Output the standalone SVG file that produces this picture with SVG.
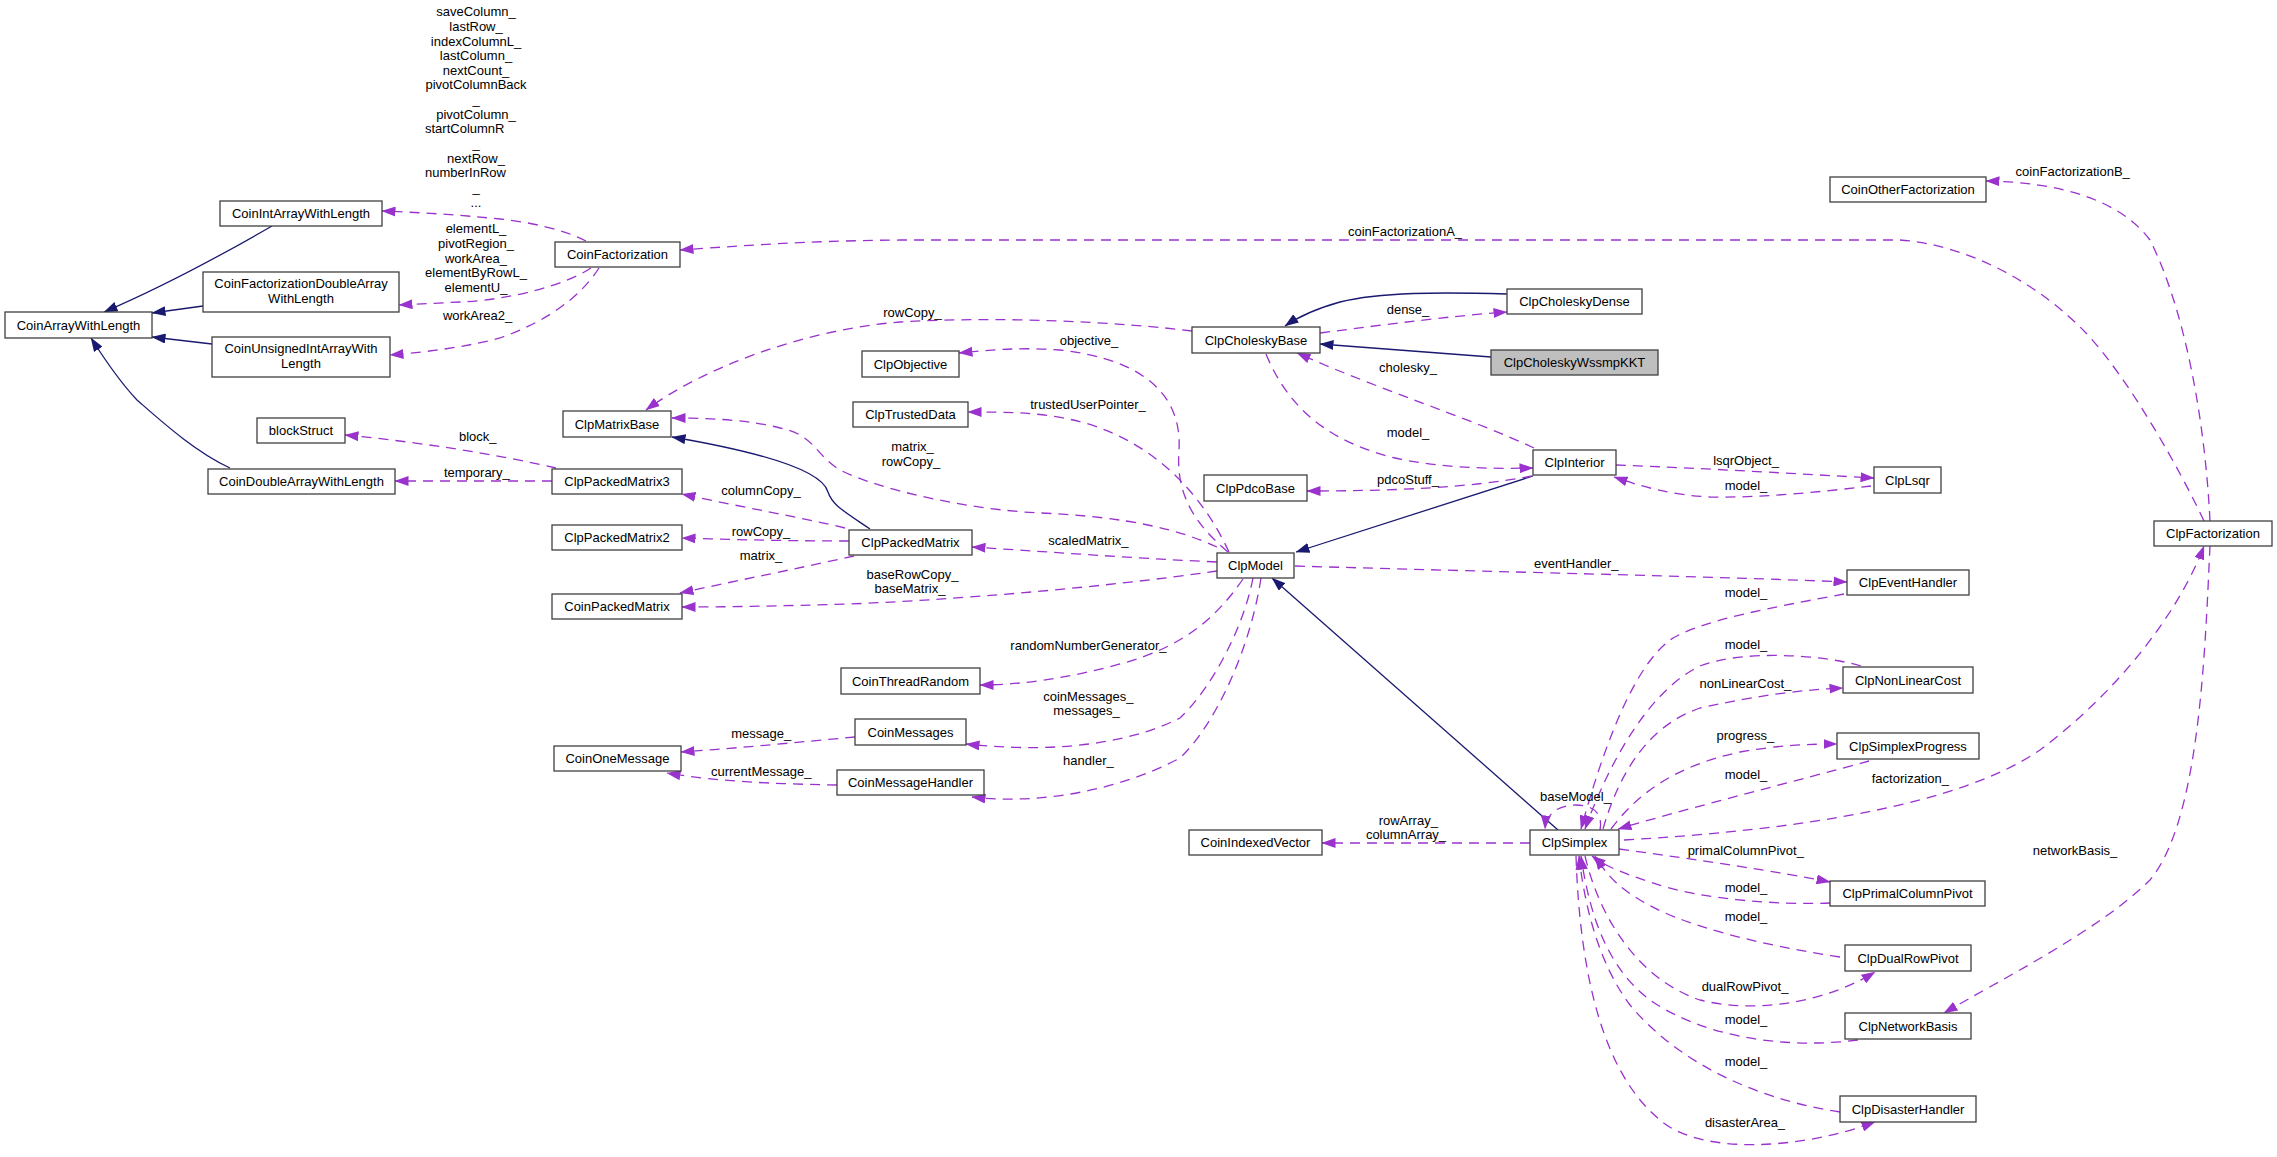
<svg xmlns="http://www.w3.org/2000/svg" width="2277" height="1157" viewBox="0 0 2277 1157">
<style>
text{font-family:"Liberation Sans",Arial,Helvetica,sans-serif;font-size:13px;fill:#000}
.n rect{fill:#fff;stroke:#404040;stroke-width:1.3}
.n text,.l{text-anchor:middle}
.s{text-anchor:start}
.d{fill:none;stroke:#9a32cd;stroke-width:1.3;stroke-dasharray:10,7;marker-end:url(#ap)}
.i{fill:none;stroke:#191970;stroke-width:1.3;marker-end:url(#an)}
</style>
<defs>
<marker id="ap" viewBox="0 0 14 10" refX="13.5" refY="5" markerWidth="14" markerHeight="10" markerUnits="userSpaceOnUse" orient="auto"><path d="M0,0L14,5L0,10z" fill="#9a32cd"/></marker>
<marker id="an" viewBox="0 0 14 10" refX="13.5" refY="5" markerWidth="14" markerHeight="10" markerUnits="userSpaceOnUse" orient="auto"><path d="M0,0L14,5L0,10z" fill="#191970"/></marker>
</defs>
<rect width="2277" height="1157" fill="#fff"/>
<g id="edges">
<path class="i" d="M272,226 C220,256 160,288 104,312"/>
<path class="i" d="M203,306 L152,313"/>
<path class="i" d="M212,344 L152,337"/>
<path class="i" d="M230,468 C195,452 160,420 137,400 C120,382 105,360 91,338"/>
<path class="i" d="M870,529 C845,512 832,505 828,492 C822,470 760,452 672,437"/>
<path class="i" d="M1507,294 C1440,292 1380,292 1340,302 C1315,309 1298,317 1285,326"/>
<path class="i" d="M1491,357 L1320,344"/>
<path class="i" d="M1533,476 L1296,552"/>
<path class="i" d="M1558,830 L1272,578"/>

<path class="d" d="M586,241 C565,230 530,222 500,219 C460,215 430,213 382,211"/>
<path class="d" d="M591,268 C565,285 510,300 460,302 C440,303 420,304 399,305"/>
<path class="d" d="M599,268 C590,282 565,315 500,338 C470,346 430,352 390,355"/>
<path class="d" d="M1192,331 C1120,322 1000,316 900,322 C800,330 700,370 646,410"/>
<path class="d" d="M1228,552 C1190,520 1176,490 1179,450 C1182,400 1150,360 1060,350 C1020,347 990,350 959,353"/>
<path class="d" d="M1229,552 C1205,500 1160,445 1085,423 C1045,412 1010,412 968,412"/>
<path class="d" d="M1217,547 C1180,530 1130,517 1041,513 C970,510 880,490 840,470 C815,455 815,435 780,428 C750,420 710,418 672,418"/>
<path class="d" d="M1217,562 C1130,558 1050,552 972,547"/>
<path class="d" d="M1217,571 C1100,588 950,600 850,604 C780,606 730,607 682,607"/>
<path class="d" d="M845,528 C800,517 740,507 682,494"/>
<path class="d" d="M849,541 C800,541 740,540 682,538"/>
<path class="d" d="M854,556 C800,568 740,580 680,593"/>
<path class="d" d="M556,468 C500,455 420,442 345,435"/>
<path class="d" d="M552,481 L395,481"/>
<path class="d" d="M1243,579 C1215,620 1180,648 1120,664 C1070,678 1020,685 980,685"/>
<path class="d" d="M1253,578 C1243,630 1210,690 1180,718 C1120,748 1040,752 966,744"/>
<path class="d" d="M1261,578 C1250,650 1215,725 1180,758 C1120,790 1040,805 972,797"/>
<path class="d" d="M855,737 C800,742 740,748 681,752"/>
<path class="d" d="M837,785 C780,784 720,782 667,773"/>
<path class="d" d="M1320,333 C1390,324 1450,316 1507,312"/>
<path class="d" d="M1534,448 C1470,418 1380,390 1297,353"/>
<path class="d" d="M1266,354 C1285,400 1320,440 1395,458 C1440,468 1490,469 1533,468"/>
<path class="d" d="M1532,476 C1470,488 1390,491 1307,491"/>
<path class="d" d="M1616,465 C1700,468 1800,474 1874,478"/>
<path class="d" d="M1871,486 C1820,492 1760,498 1710,497 C1670,495 1640,486 1614,477"/>
<path class="d" d="M1295,566 C1500,572 1700,576 1847,582"/>
<path class="d" d="M1844,594 C1780,606 1700,620 1670,640 C1630,670 1600,760 1581,829"/>
<path class="d" d="M1861,666 C1820,654 1740,650 1700,666 C1650,690 1610,760 1585,829"/>
<path class="d" d="M1603,829 C1620,770 1650,725 1700,708 C1760,695 1800,690 1843,688"/>
<path class="d" d="M1611,829 C1640,790 1680,765 1740,752 C1780,745 1810,744 1837,744"/>
<path class="d" d="M1869,761 C1800,780 1700,805 1618,829"/>
<path class="d" d="M1624,840 C1800,830 1960,805 2040,750 C2120,690 2180,610 2204,546"/>
<path class="d" d="M1600,830 C1603,815 1595,805 1576,805 C1558,805 1546,814 1545,829"/>
<path class="d" d="M1619,849 C1700,860 1780,872 1830,882"/>
<path class="d" d="M1830,903 C1780,905 1700,900 1650,882 C1620,872 1605,866 1592,856"/>
<path class="d" d="M1840,957 C1760,945 1680,925 1640,900 C1615,885 1605,872 1595,856"/>
<path class="d" d="M1585,856 C1600,920 1640,980 1700,1000 C1760,1015 1830,1000 1875,972"/>
<path class="d" d="M1858,1040 C1780,1050 1700,1035 1650,1000 C1610,970 1590,920 1581,856"/>
<path class="d" d="M1840,1112 C1760,1100 1680,1065 1630,1005 C1600,965 1585,910 1579,856"/>
<path class="d" d="M1576,856 C1580,980 1605,1075 1660,1120 C1700,1155 1800,1150 1875,1122"/>
<path class="d" d="M2210,546 C2205,650 2200,820 2150,880 C2100,930 2000,980 1944,1013"/>
<path class="d" d="M2204,521 C2180,470 2130,380 2086,333 C2040,285 1970,245 1900,240 L900,240 C800,241 740,246 680,250"/>
<path class="d" d="M2210,521 C2205,420 2185,310 2150,240 C2120,200 2060,182 1986,181"/>
<path class="d" d="M1530,843 L1322,843"/>

<g id="labels">
<text class="l" x="476" y="16.2">saveColumn_</text>
<text class="l" x="476" y="30.8">lastRow_</text>
<text class="l" x="476" y="45.5">indexColumnL_</text>
<text class="l" x="476" y="60.1">lastColumn_</text>
<text class="l" x="476" y="74.8">nextCount_</text>
<text class="l" x="476" y="89.4">pivotColumnBack</text>
<text class="l" x="476" y="104.1">_</text>
<text class="l" x="476" y="118.7">pivotColumn_</text>
<text class="s" x="425" y="133.4">startColumnR</text>
<text class="l" x="476" y="148">_</text>
<text class="l" x="476" y="162.7">nextRow_</text>
<text class="s" x="425" y="177.3">numberInRow</text>
<text class="l" x="476" y="192">_</text>
<text class="l" x="476" y="206.6">...</text>
<text class="l" x="476" y="233.2">elementL_</text>
<text class="l" x="476" y="247.8">pivotRegion_</text>
<text class="l" x="476" y="262.8">workArea_</text>
<text class="l" x="476" y="277.2">elementByRowL_</text>
<text class="l" x="476" y="291.8">elementU_</text>
<text class="l" x="477.6" y="319.5">workArea2_</text>
<text class="l" x="912.5" y="317.2">rowCopy_</text>
<text class="l" x="1089" y="345.2">objective_</text>
<text class="l" x="1088" y="408.5">trustedUserPointer_</text>
<text class="l" x="912.5" y="451.2">matrix_</text>
<text class="l" x="911" y="465.5">rowCopy_</text>
<text class="l" x="761" y="495.2">columnCopy_</text>
<text class="l" x="761" y="535.5">rowCopy_</text>
<text class="l" x="1088.4" y="545.2">scaledMatrix_</text>
<text class="l" x="761" y="560.2">matrix_</text>
<text class="l" x="912.5" y="579.2">baseRowCopy_</text>
<text class="l" x="910" y="593.2">baseMatrix_</text>
<text class="l" x="1088.4" y="649.5">randomNumberGenerator_</text>
<text class="l" x="1088.4" y="700.5">coinMessages_</text>
<text class="l" x="1086.6" y="715.3">messages_</text>
<text class="l" x="1088.4" y="764.5">handler_</text>
<text class="l" x="761.2" y="737.5">message_</text>
<text class="l" x="761.2" y="775.5">currentMessage_</text>
<text class="l" x="477.7" y="441.2">block_</text>
<text class="l" x="476.8" y="477.2">temporary_</text>
<text class="l" x="1408" y="313.5">dense_</text>
<text class="l" x="1408" y="372.2">cholesky_</text>
<text class="l" x="1408" y="437.2">model_</text>
<text class="l" x="1408" y="483.5">pdcoStuff_</text>
<text class="l" x="1746" y="464.5">lsqrObject_</text>
<text class="l" x="1746" y="489.5">model_</text>
<text class="l" x="1576.3" y="567.5">eventHandler_</text>
<text class="l" x="1746" y="597.1">model_</text>
<text class="l" x="1746" y="649">model_</text>
<text class="l" x="1745.4" y="688.1">nonLinearCost_</text>
<text class="l" x="1745.4" y="739.5">progress_</text>
<text class="l" x="1746" y="779">model_</text>
<text class="l" x="1910.4" y="782.9">factorization_</text>
<text class="l" x="1575.5" y="800.7">baseModel_</text>
<text class="l" x="1408.3" y="824.5">rowArray_</text>
<text class="l" x="1406" y="838.8">columnArray_</text>
<text class="l" x="1745.8" y="855.3">primalColumnPivot_</text>
<text class="l" x="2075" y="855.3">networkBasis_</text>
<text class="l" x="1746" y="892.1">model_</text>
<text class="l" x="1746" y="921.1">model_</text>
<text class="l" x="1745" y="991.2">dualRowPivot_</text>
<text class="l" x="1746" y="1024.1">model_</text>
<text class="l" x="1746" y="1065.5">model_</text>
<text class="l" x="1745" y="1126.7">disasterArea_</text>
<text class="l" x="1405" y="235.8">coinFactorizationA_</text>
<text class="l" x="2072.7" y="176">coinFactorizationB_</text>
</g>
</g>

<g id="CoinArrayWithLength" class="n"><rect x="5" y="312" width="147" height="26"/><text x="78.5" y="329.5">CoinArrayWithLength</text></g>
<g id="CoinIntArrayWithLength" class="n"><rect x="220" y="201" width="162" height="25"/><text x="301" y="218">CoinIntArrayWithLength</text></g>
<g id="CoinFactorizationDoubleArrayWithLength" class="n"><rect x="203" y="272" width="196" height="40"/><text x="301" y="288">CoinFactorizationDoubleArray</text><text x="301" y="303">WithLength</text></g>
<g id="CoinUnsignedIntArrayWithLength" class="n"><rect x="212" y="337" width="178" height="40"/><text x="301" y="353">CoinUnsignedIntArrayWith</text><text x="301" y="368">Length</text></g>
<g id="CoinDoubleArrayWithLength" class="n"><rect x="208" y="469" width="187" height="25"/><text x="301.5" y="486">CoinDoubleArrayWithLength</text></g>
<g id="blockStruct" class="n"><rect x="257" y="418" width="88" height="25"/><text x="301" y="435">blockStruct</text></g>
<g id="CoinFactorization" class="n"><rect x="555" y="242" width="125" height="25"/><text x="617.5" y="259">CoinFactorization</text></g>
<g id="ClpMatrixBase" class="n"><rect x="563" y="411" width="108" height="26"/><text x="617" y="428.5">ClpMatrixBase</text></g>
<g id="ClpPackedMatrix3" class="n"><rect x="552" y="469" width="130" height="25"/><text x="617" y="486">ClpPackedMatrix3</text></g>
<g id="ClpPackedMatrix2" class="n"><rect x="552" y="525" width="130" height="25"/><text x="617" y="542">ClpPackedMatrix2</text></g>
<g id="CoinPackedMatrix" class="n"><rect x="552" y="594" width="130" height="25"/><text x="617" y="611">CoinPackedMatrix</text></g>
<g id="CoinOneMessage" class="n"><rect x="554" y="746" width="127" height="25"/><text x="617.5" y="763">CoinOneMessage</text></g>
<g id="ClpObjective" class="n"><rect x="862" y="351" width="97" height="26"/><text x="910.5" y="368.5">ClpObjective</text></g>
<g id="ClpTrustedData" class="n"><rect x="853" y="402" width="115" height="25"/><text x="910.5" y="419">ClpTrustedData</text></g>
<g id="ClpPackedMatrix" class="n"><rect x="849" y="530" width="123" height="25"/><text x="910.5" y="547">ClpPackedMatrix</text></g>
<g id="CoinThreadRandom" class="n"><rect x="841" y="668" width="139" height="26"/><text x="910.5" y="685.5">CoinThreadRandom</text></g>
<g id="CoinMessages" class="n"><rect x="855" y="719" width="111" height="26"/><text x="910.5" y="736.5">CoinMessages</text></g>
<g id="CoinMessageHandler" class="n"><rect x="837" y="770" width="147" height="25"/><text x="910.5" y="787">CoinMessageHandler</text></g>
<g id="ClpCholeskyBase" class="n"><rect x="1192" y="327" width="128" height="26"/><text x="1256" y="344.5">ClpCholeskyBase</text></g>
<g id="ClpPdcoBase" class="n"><rect x="1204" y="475" width="103" height="26"/><text x="1255.5" y="492.5">ClpPdcoBase</text></g>
<g id="ClpModel" class="n"><rect x="1217" y="553" width="77" height="25"/><text x="1255.5" y="570">ClpModel</text></g>
<g id="CoinIndexedVector" class="n"><rect x="1189" y="830" width="133" height="25"/><text x="1255.5" y="847">CoinIndexedVector</text></g>
<g id="ClpCholeskyDense" class="n"><rect x="1507" y="289" width="135" height="25"/><text x="1574.5" y="306">ClpCholeskyDense</text></g>
<g id="ClpCholeskyWssmpKKT" class="n"><rect x="1491" y="350" width="167" height="25" style="fill:#bfbfbf"/><text x="1574.5" y="367">ClpCholeskyWssmpKKT</text></g>
<g id="ClpInterior" class="n"><rect x="1533" y="450" width="83" height="25"/><text x="1574.5" y="467">ClpInterior</text></g>
<g id="ClpSimplex" class="n"><rect x="1530" y="830" width="89" height="25"/><text x="1574.5" y="847">ClpSimplex</text></g>
<g id="CoinOtherFactorization" class="n"><rect x="1830" y="177" width="156" height="25"/><text x="1908" y="194">CoinOtherFactorization</text></g>
<g id="ClpLsqr" class="n"><rect x="1874" y="467" width="67" height="26"/><text x="1907.5" y="484.5">ClpLsqr</text></g>
<g id="ClpEventHandler" class="n"><rect x="1847" y="570" width="122" height="25"/><text x="1908" y="587">ClpEventHandler</text></g>
<g id="ClpNonLinearCost" class="n"><rect x="1843" y="667" width="130" height="26"/><text x="1908" y="684.5">ClpNonLinearCost</text></g>
<g id="ClpSimplexProgress" class="n"><rect x="1837" y="733" width="142" height="26"/><text x="1908" y="750.5">ClpSimplexProgress</text></g>
<g id="ClpPrimalColumnPivot" class="n"><rect x="1830" y="881" width="155" height="25"/><text x="1907.5" y="898">ClpPrimalColumnPivot</text></g>
<g id="ClpDualRowPivot" class="n"><rect x="1845" y="945" width="126" height="26"/><text x="1908" y="962.5">ClpDualRowPivot</text></g>
<g id="ClpNetworkBasis" class="n"><rect x="1845" y="1013" width="126" height="26"/><text x="1908" y="1030.5">ClpNetworkBasis</text></g>
<g id="ClpDisasterHandler" class="n"><rect x="1840" y="1096" width="136" height="26"/><text x="1908" y="1113.5">ClpDisasterHandler</text></g>
<g id="ClpFactorization" class="n"><rect x="2154" y="521" width="118" height="25"/><text x="2213" y="538">ClpFactorization</text></g>
</svg>
